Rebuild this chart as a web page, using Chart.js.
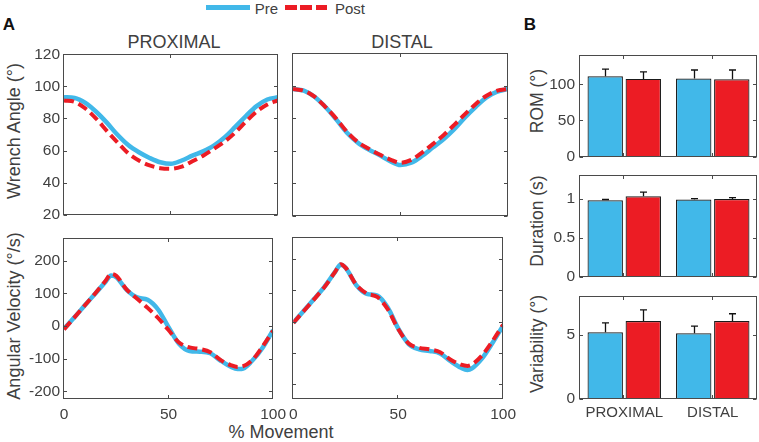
<!DOCTYPE html>
<html><head><meta charset="utf-8">
<script src="https://cdn.jsdelivr.net/npm/chart.js@4"></script>
<style>
html,body{margin:0;padding:0;background:#fff;}
#wrap{position:relative;width:759px;height:442px;overflow:hidden;font-family:"Liberation Sans",Arial,sans-serif;color:#404040;background:#fff;}
#wrap canvas{position:absolute;}
.t{position:absolute;white-space:nowrap;line-height:1;transform:translate(-50%,-50%);}
.rot{transform:translate(-50%,-50%) rotate(-90deg);}
.lab{font-size:18px;}
.pl{font-weight:bold;font-size:17px;color:#111;}
.leg{position:absolute;}
</style></head><body><div id="wrap">
<div class="t pl" style="left:9px;top:24px">A</div>
<div class="t pl" style="left:530px;top:24px">B</div>
<div class="t lab" style="left:174px;top:42px">PROXIMAL</div>
<div class="t lab" style="left:402px;top:42px">DISTAL</div>
<div class="t lab rot" style="left:14px;top:131px">Wrench Angle (°)</div>
<div class="t lab rot" style="left:14px;top:316px">Angular Velocity (°/s)</div>
<div class="t lab" style="left:281px;top:432px">% Movement</div>
<div class="t lab rot" style="left:538px;top:101px;font-size:17.5px">ROM (°)</div>
<div class="t lab rot" style="left:538px;top:221px;font-size:17.5px">Duration (s)</div>
<div class="t lab rot" style="left:538px;top:344px;font-size:17.5px">Variability (°)</div>
<div class="leg" style="left:206px;top:5px;width:44px;height:4.5px;background:#41b8e9"></div>
<div class="t" style="left:266.5px;top:8px;font-size:15px">Pre</div>
<div class="leg" style="left:285px;top:5px;width:43px;height:4.5px;background:repeating-linear-gradient(90deg,#ec1c24 0 11.7px,transparent 11.7px 15.3px)"></div>
<div class="t" style="left:350px;top:8px;font-size:15px">Post</div>
</div>
<script>
// ---------- data ----------
const angleX = [0,5,10,15,20,25,30,35,40,45,50,55,60,65,70,75,80,85,90,95,100];
const proxAnglePre  = [93.2,92.8,89.7,84.2,77.4,69.8,63.4,58.9,55.4,52.7,51.7,53.8,56.8,59.5,63.0,68.1,74.7,81.5,87.7,91.8,93.2];
const proxAnglePost = [91.2,90.3,86.2,79.9,72.3,65.1,58.3,53.8,50.7,49.0,48.6,50.0,53.3,56.8,61.0,65.5,71.2,78.0,84.2,88.7,91.2];
const distAnglePre  = [97.9,96.9,93.2,87.0,79.4,71.2,65.1,60.9,57.5,53.8,51.3,52.7,56.8,62.0,67.1,73.3,80.5,87.0,92.8,96.3,97.9];
const distAnglePost = [97.9,96.9,93.2,87.0,79.9,71.8,65.5,61.4,57.9,54.8,52.7,54.4,58.9,64.1,69.6,75.9,82.5,88.7,93.8,96.9,97.9];

const velX = [0,5,10,15,20,22.5,25,30,35,40,45,50,55,60,65,70,75,80,83,85,90,95,100];
const proxVelPre  = [-8,27,64,100,137,155,150,111,88,81,51,-3,-54,-76,-78,-83,-106,-125,-131,-131,-106,-66,-12];
const proxVelPost = [-10,27,64,101,140,160,154,112,84,56,25,-12,-50,-65,-70,-80,-104,-120,-125,-124,-104,-62,-14];
const distVelPre  = [-4,35,73,113,160,182,172,117,89,83,45,-22,-72,-89,-94,-102,-127,-148,-155,-151,-118,-68,-13];
const distVelPost = [-4,34,72,112,160,184,172,118,90,79,40,-24,-70,-84,-89,-98,-122,-138,-142,-138,-108,-62,-10];

const angleTicks = [20,40,60,80,100,120];
const velTicks = [-200,-100,0,100,200];
const movementTicks = [0,50,100];

const groups = ['PROXIMAL','DISTAL'];
const romPre = [111, 108],   romPreErr = [10, 11.7];
const romPost = [107.4, 107], romPostErr = [9.6, 12.7];
const durPre = [0.98, 0.99],  durPreErr = [0.01, 0.01];
const durPost = [1.03, 0.995], durPostErr = [0.055, 0.018];
const varPre = [5.2, 5.12],   varPreErr = [0.73, 0.56];
const varPost = [6.08, 6.08], varPostErr = [0.86, 0.56];
const romTicks = [0,50,100], durTicks = [0,0.5,1], varTicks = [0,5];

// ---------- styles ----------
const BLUE = '#41b8e9', RED = '#ec1c24', INK = '#404040', BOX = '#4a4a4a';
const TICKFONT = {family:'Liberation Sans, Arial, sans-serif', size:15.5};
const wrap = document.getElementById('wrap');
const plainLabel = v => String(v);

const boxPlugin = {
  id:'matlabBox',
  afterDraw(chart){
    const {ctx, chartArea:a, scales} = chart;
    const L = Math.round(a.left)-0.5, R = Math.round(a.right)-0.5, T = Math.round(a.top)+0.5, B = Math.round(a.bottom)-0.5;
    ctx.save();
    ctx.strokeStyle = BOX; ctx.lineWidth = 1;
    ctx.strokeRect(L, T, R-L, B-T);
    const tl = 3.5;
    ctx.beginPath();
    const xs = scales.x, ys = scales.y;
    xs.ticks.forEach((t,i)=>{ const p = Math.round(xs.getPixelForTick(i))-0.5;
      ctx.moveTo(p,B); ctx.lineTo(p,B-tl); ctx.moveTo(p,T); ctx.lineTo(p,T+tl); });
    ys.ticks.forEach((t,i)=>{ const p = Math.round(ys.getPixelForTick(i))+0.5;
      ctx.moveTo(L,p); ctx.lineTo(L+tl,p); ctx.moveTo(R,p); ctx.lineTo(R-tl,p); });
    ctx.stroke();
    ctx.restore();
  }
};

const errPlugin = {
  id:'errBars',
  afterDatasetsDraw(chart){
    const ctx = chart.ctx, y = chart.scales.y;
    ctx.save(); ctx.strokeStyle = '#111'; ctx.lineWidth = 1.3;
    chart.data.datasets.forEach((ds,i)=>{
      const meta = chart.getDatasetMeta(i);
      meta.data.forEach((bar,j)=>{
        const top = y.getPixelForValue(ds.data[j] + ds.errors[j]);
        const x = Math.round(bar.x)+0.5;
        ctx.beginPath();
        ctx.moveTo(x, bar.y); ctx.lineTo(x, top);
        ctx.moveTo(x-3.5, top); ctx.lineTo(x+3.5, top);
        ctx.stroke();
      });
    });
    ctx.restore();
  }
};

function mount(L,T,R,B,ML,MT,MR,MB){
  const c = document.createElement('canvas');
  c.width = R-L+ML+MR; c.height = B-T+MT+MB;
  c.style.left = (L-ML)+'px'; c.style.top = (T-MT)+'px';
  wrap.appendChild(c); return c;
}

function fixedTicks(vals){ return s => { s.ticks = vals.map(v=>({value:v})); }; }

function linePanel(rect, xs, pre, post, yMin, yMax, yTicks, showY, showX){
  const [L,T,R,B] = rect;
  const ML = showY ? 50 : 10, MT = 12, MR = 14, MB = showX ? 30 : 12;
  const c = mount(L,T,R,B,ML,MT,MR,MB);
  new Chart(c, {
    type:'line',
    data:{datasets:[
      {label:'Pre', data: xs.map((x,i)=>({x, y:pre[i]})), borderColor:BLUE, borderWidth:4.5, order:2},
      {label:'Post', data: xs.map((x,i)=>({x, y:post[i]})), borderColor:RED, borderWidth:4, borderDash:[10,5], order:1}
    ]},
    options:{
      responsive:false, animation:false, devicePixelRatio:1,
      layout:{padding:{left:0, top:MT, right:MR, bottom:0}},
      elements:{point:{radius:0}, line:{cubicInterpolationMode:'monotone', fill:false, borderCapStyle:'butt'}},
      plugins:{legend:{display:false}, tooltip:{enabled:false}},
      scales:{
        x:{type:'linear', min:0, max:100, afterBuildTicks: fixedTicks(movementTicks),
           afterFit: s=>{ s.height = MB; },
           grid:{display:false, drawTicks:false}, border:{display:false},
           ticks:{display:showX, font:TICKFONT, color:INK, padding:6, maxRotation:0, autoSkip:false, callback:plainLabel}},
        y:{type:'linear', min:yMin, max:yMax, afterBuildTicks: fixedTicks(yTicks),
           afterFit: s=>{ s.width = ML; },
           grid:{display:false, drawTicks:false}, border:{display:false},
           ticks:{display:showY, font:TICKFONT, color:INK, padding:4, autoSkip:false, callback:plainLabel}}
      }
    },
    plugins:[boxPlugin]
  });
}

function barPanel(rect, pre, preErr, post, postErr, yMax, yTicks, showX){
  const [L,T,R,B] = rect;
  const ML = 50, MT = 12, MR = 2, MB = showX ? 30 : 12;
  const c = mount(L,T,R,B,ML,MT,MR,MB);
  const common = {borderColor:'#1a1a1a', borderWidth:1.2, categoryPercentage:0.86, barPercentage:0.93};
  new Chart(c, {
    type:'bar',
    data:{labels:groups, datasets:[
      Object.assign({label:'Pre', data:pre, errors:preErr, backgroundColor:BLUE}, common),
      Object.assign({label:'Post', data:post, errors:postErr, backgroundColor:RED}, common)
    ]},
    options:{
      responsive:false, animation:false, devicePixelRatio:1,
      layout:{padding:{left:0, top:MT, right:MR, bottom:0}},
      plugins:{legend:{display:false}, tooltip:{enabled:false}},
      scales:{
        x:{type:'category', offset:true, afterFit: s=>{ s.height = MB; },
           grid:{display:false, drawTicks:false}, border:{display:false},
           ticks:{display:showX, font:{family:TICKFONT.family, size:15}, color:INK, padding:5, maxRotation:0, autoSkip:false}},
        y:{type:'linear', min:0, max:yMax, afterBuildTicks: fixedTicks(yTicks),
           afterFit: s=>{ s.width = ML; },
           grid:{display:false, drawTicks:false}, border:{display:false},
           ticks:{display:true, font:TICKFONT, color:INK, padding:5, autoSkip:false, callback:plainLabel}}
      }
    },
    plugins:[errPlugin, boxPlugin]
  });
}

linePanel([64,53,278,216], angleX, proxAnglePre, proxAnglePost, 20, 120, angleTicks, true, false);
linePanel([293,53,508,216], angleX, distAnglePre, distAnglePost, 20, 120, angleTicks, false, false);
linePanel([64,237,278,399], velX, proxVelPre, proxVelPost, -223, 269, velTicks, true, true);
linePanel([293,237,508,399], velX, distVelPre, distVelPost, -248, 271, velTicks, false, true);

barPanel([580,53,757,159], romPre, romPreErr, romPost, romPostErr, 140, romTicks, false);
barPanel([580,173,757,279], durPre, durPreErr, durPost, durPostErr, 1.3, durTicks, false);
barPanel([580,294,757,399], varPre, varPreErr, varPost, varPostErr, 8, varTicks, true);
</script>
</body></html>
